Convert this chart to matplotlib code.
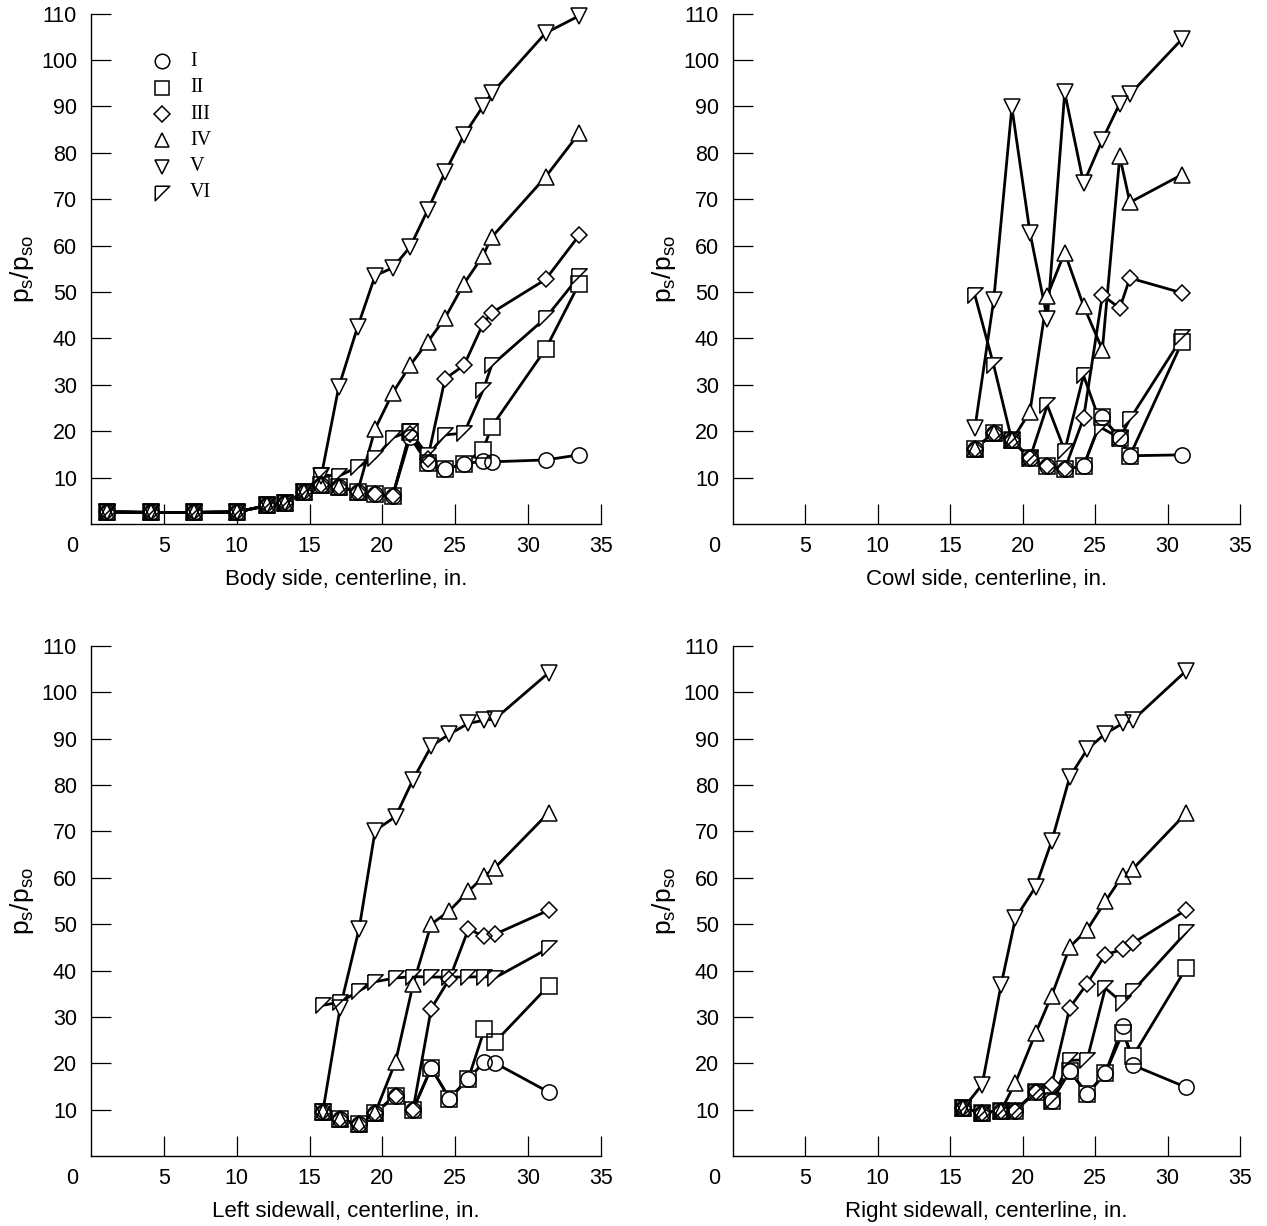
#!/usr/bin/env python3
"""Surface pressure ratio along the inlet walls for six test conditions (I-VI)."""

import matplotlib
matplotlib.use("Agg")
import matplotlib.pyplot as plt

plt.rcParams["font.family"] = ["Liberation Sans", "DejaVu Sans"]
plt.rcParams["mathtext.fontset"] = "custom"
plt.rcParams["mathtext.rm"] = "Liberation Sans"
plt.rcParams["mathtext.it"] = "Liberation Sans"

SERIES = ["I", "II", "III", "IV", "V", "VI"]
FLAG = [(-1, 1), (1, 1), (-1, -1), (-1, 1)]
MARKERS = {"I": ("o", 11), "II": ("s", 11), "III": ("D", 8.6),
           "IV": ("^", 11), "V": ("v", 11), "VI": (FLAG, 11)}

# ---- body side, centerline ----
x_body = [1.1, 4.1, 7.05, 10.05, 12.1, 13.3, 14.6, 15.8, 17.0, 18.3,
          19.5, 20.7, 21.9, 23.1, 24.3, 25.6, 26.9, 27.5, 31.2, 33.5]
body_I = [2.6, 2.5, 2.5, 2.6, 4.0, 4.5, 6.8, 8.5, 8.0, 7.0,
          6.4, 6.0, 18.7, 13.1, 11.8, 13.0, 13.5, 13.4, 13.8, 14.9]
body_II = [2.6, 2.5, 2.5, 2.6, 4.0, 4.5, 6.8, 8.5, 8.0, 7.0,
           6.4, 6.0, 19.8, 13.1, 11.8, 13.0, 16.0, 21.0, 37.7, 51.8]
body_III = [2.6, 2.5, 2.5, 2.6, 4.0, 4.5, 6.8, 8.5, 8.0, 7.0,
            6.4, 6.0, 19.5, 14.0, 31.3, 34.2, 43.1, 45.5, 52.7, 62.2]
body_IV = [2.6, 2.5, 2.5, 2.6, 4.0, 4.5, 6.8, 8.5, 8.0, 7.0,
           20.5, 28.2, 34.2, 39.2, 44.4, 51.8, 57.8, 61.8, 74.8, 84.2]
body_V = [2.6, 2.5, 2.5, 2.6, 4.0, 4.5, 6.8, 10.3, 29.5, 42.5,
          53.5, 55.2, 59.7, 67.6, 75.8, 83.8, 90.0, 92.8, 105.8, 109.5]
body_VI = [2.6, 2.5, 2.5, 2.6, 4.0, 4.5, 6.8, 10.6, 10.3, 12.3,
           14.2, 18.6, 20.0, 14.8, 19.2, 19.6, 28.8, 34.2, 44.4, 53.4]

# ---- cowl side, centerline ----
x_cowl = [16.7, 18.0, 19.25, 20.5, 21.7, 22.9, 24.2, 25.5, 26.7, 27.4, 31.0]
cowl_I = [16.2, 19.6, 18.0, 14.2, 12.5, 11.8, 12.5, 23.0, 18.5, 14.7, 14.9]
cowl_II = [16.2, 19.6, 18.0, 14.2, 12.5, 11.8, 12.5, 23.0, 18.5, 14.7, 39.2]
cowl_III = [16.2, 19.6, 18.0, 14.2, 12.5, 11.8, 22.8, 49.3, 46.5, 53.0, 49.8]
cowl_IV = [16.2, 19.6, 18.0, 24.2, 49.2, 58.5, 47.0, 37.6, 79.2, 69.3, 75.3]
cowl_V = [20.7, 48.3, 89.8, 62.8, 44.2, 93.0, 73.4, 82.8, 90.6, 92.6, 104.5]
cowl_VI = [49.3, 34.2, 18.0, 14.2, 25.6, 15.8, 32.0, 20.6, 18.5, 22.6, 40.2]

# ---- left sidewall, centerline ----
x_left = [15.9, 17.1, 18.4, 19.5, 20.9, 22.1, 23.35, 24.6, 25.9, 27.0, 27.7, 31.4]
left_I = [9.4, 7.9, 6.8, 9.3, 13.0, 10.0, 19.0, 12.4, 16.7, 20.3, 20.1, 13.8]
left_II = [9.4, 7.9, 6.8, 9.3, 13.0, 10.0, 19.0, 12.4, 16.7, 27.3, 24.5, 36.7]
left_III = [9.4, 7.9, 6.8, 9.3, 13.0, 10.0, 31.8, 38.2, 48.9, 47.4, 47.8, 53.0]
left_IV = [9.4, 7.9, 6.8, 9.3, 20.3, 37.0, 50.0, 52.9, 57.1, 60.4, 62.1, 74.0]
left_V = [9.4, 32.0, 49.0, 70.2, 73.2, 81.2, 88.4, 91.0, 93.3, 94.0, 94.2, 104.2]
left_VI = [32.5, 33.2, 35.6, 37.6, 38.4, 38.7, 38.6, 38.6, 38.6, 38.7, 38.4, 44.8]

# ---- right sidewall, centerline ----
x_right = [15.9, 17.2, 18.5, 19.5, 20.9, 22.0, 23.25, 24.45, 25.7, 26.9, 27.6, 31.3]
right_I = [10.3, 9.3, 9.8, 9.8, 13.9, 11.9, 18.3, 13.4, 17.8, 28.0, 19.6, 14.8]
right_II = [10.3, 9.3, 9.8, 9.8, 13.9, 11.9, 18.3, 13.4, 17.8, 26.5, 21.5, 40.6]
right_III = [10.3, 9.3, 9.8, 9.8, 13.9, 15.4, 32.0, 37.2, 43.4, 44.6, 45.9, 53.1]
right_IV = [10.3, 9.3, 9.8, 15.8, 26.6, 34.6, 45.1, 48.8, 54.9, 60.5, 61.9, 74.0]
right_V = [10.3, 15.4, 36.8, 51.3, 58.1, 67.9, 81.8, 87.7, 91.1, 93.3, 94.0, 104.7]
right_VI = [10.3, 9.3, 9.8, 9.8, 13.9, 11.9, 20.6, 20.8, 36.2, 33.0, 35.6, 48.3]

PANELS = [
    ("Body side, centerline, in.", x_body,
     [body_I, body_II, body_III, body_IV, body_V, body_VI]),
    ("Cowl side, centerline, in.", x_cowl,
     [cowl_I, cowl_II, cowl_III, cowl_IV, cowl_V, cowl_VI]),
    ("Left sidewall, centerline, in.", x_left,
     [left_I, left_II, left_III, left_IV, left_V, left_VI]),
    ("Right sidewall, centerline, in.", x_right,
     [right_I, right_II, right_III, right_IV, right_V, right_VI]),
]

W, H = 1267, 1226
# axes boxes in pixels: (left, right, y of zero line, y of 110)
BOXES = [(91, 601, 524, 13.5), (733, 1240, 524, 13.5),
         (91, 601, 1156, 646), (733, 1240, 1156, 646)]
TICK_FS, LABEL_FS = 15.5, 16

fig = plt.figure(figsize=(W / 100, H / 100), dpi=100)

for (xlabel, xs, ys), (l, r, y0, y1) in zip(PANELS, BOXES):
    ax = fig.add_axes([l / W, (H - y0) / H, (r - l) / W, (y0 - y1) / H])
    for name, y in zip(SERIES, ys):
        m, ms = MARKERS[name]
        ax.plot(xs, y, "-", color="black", lw=2.0, zorder=2, clip_on=False)
        ax.plot(xs, y, ls="none", marker=m, ms=ms, mfc="white", mec="none",
                zorder=3, clip_on=False)
        ax.plot(xs, y, ls="none", marker=m, ms=ms, mfc="none", mec="black",
                mew=1.1, zorder=4, clip_on=False)
    ax.set_xlim(0, 35)
    ax.set_ylim(0, 110)
    ax.set_xticks(range(5, 36, 5))
    ax.set_yticks(range(10, 111, 10))
    for s in ("top", "right"):
        ax.spines[s].set_visible(False)
    for s in ("left", "bottom"):
        ax.spines[s].set_linewidth(1.0)
    ax.tick_params(axis="both", direction="in", length=14.5, width=0.9,
                   labelsize=TICK_FS)
    ax.tick_params(axis="x", pad=9)
    ax.tick_params(axis="y", pad=10)
    ax.annotate("0", xy=(0, 0), xytext=(-19, -23), textcoords="offset pixels",
                ha="center", va="center", fontsize=TICK_FS)
    ax.set_xlabel(xlabel, fontsize=LABEL_FS, labelpad=8.5)
    ax.set_ylabel(r"$\mathregular{p_s/p_{so}}$", fontsize=19, labelpad=3.5)

    if xlabel.startswith("Body"):
        # key drawn in axes fractions: marker column then roman numeral
        for i, name in enumerate(SERIES):
            m, ms = MARKERS[name]
            yk = 0.906 - i * 0.0515
            ax.plot([0.139], [yk], ls="none", marker=m, ms=ms * 0.95,
                    mfc="white", mec="black", mew=1.1, transform=ax.transAxes,
                    clip_on=False)
            ax.text(0.194, yk, name, transform=ax.transAxes, ha="left",
                    va="center", fontsize=14.5,
                    family=["Liberation Serif", "DejaVu Serif"])

fig.savefig("out.png", dpi=100)
